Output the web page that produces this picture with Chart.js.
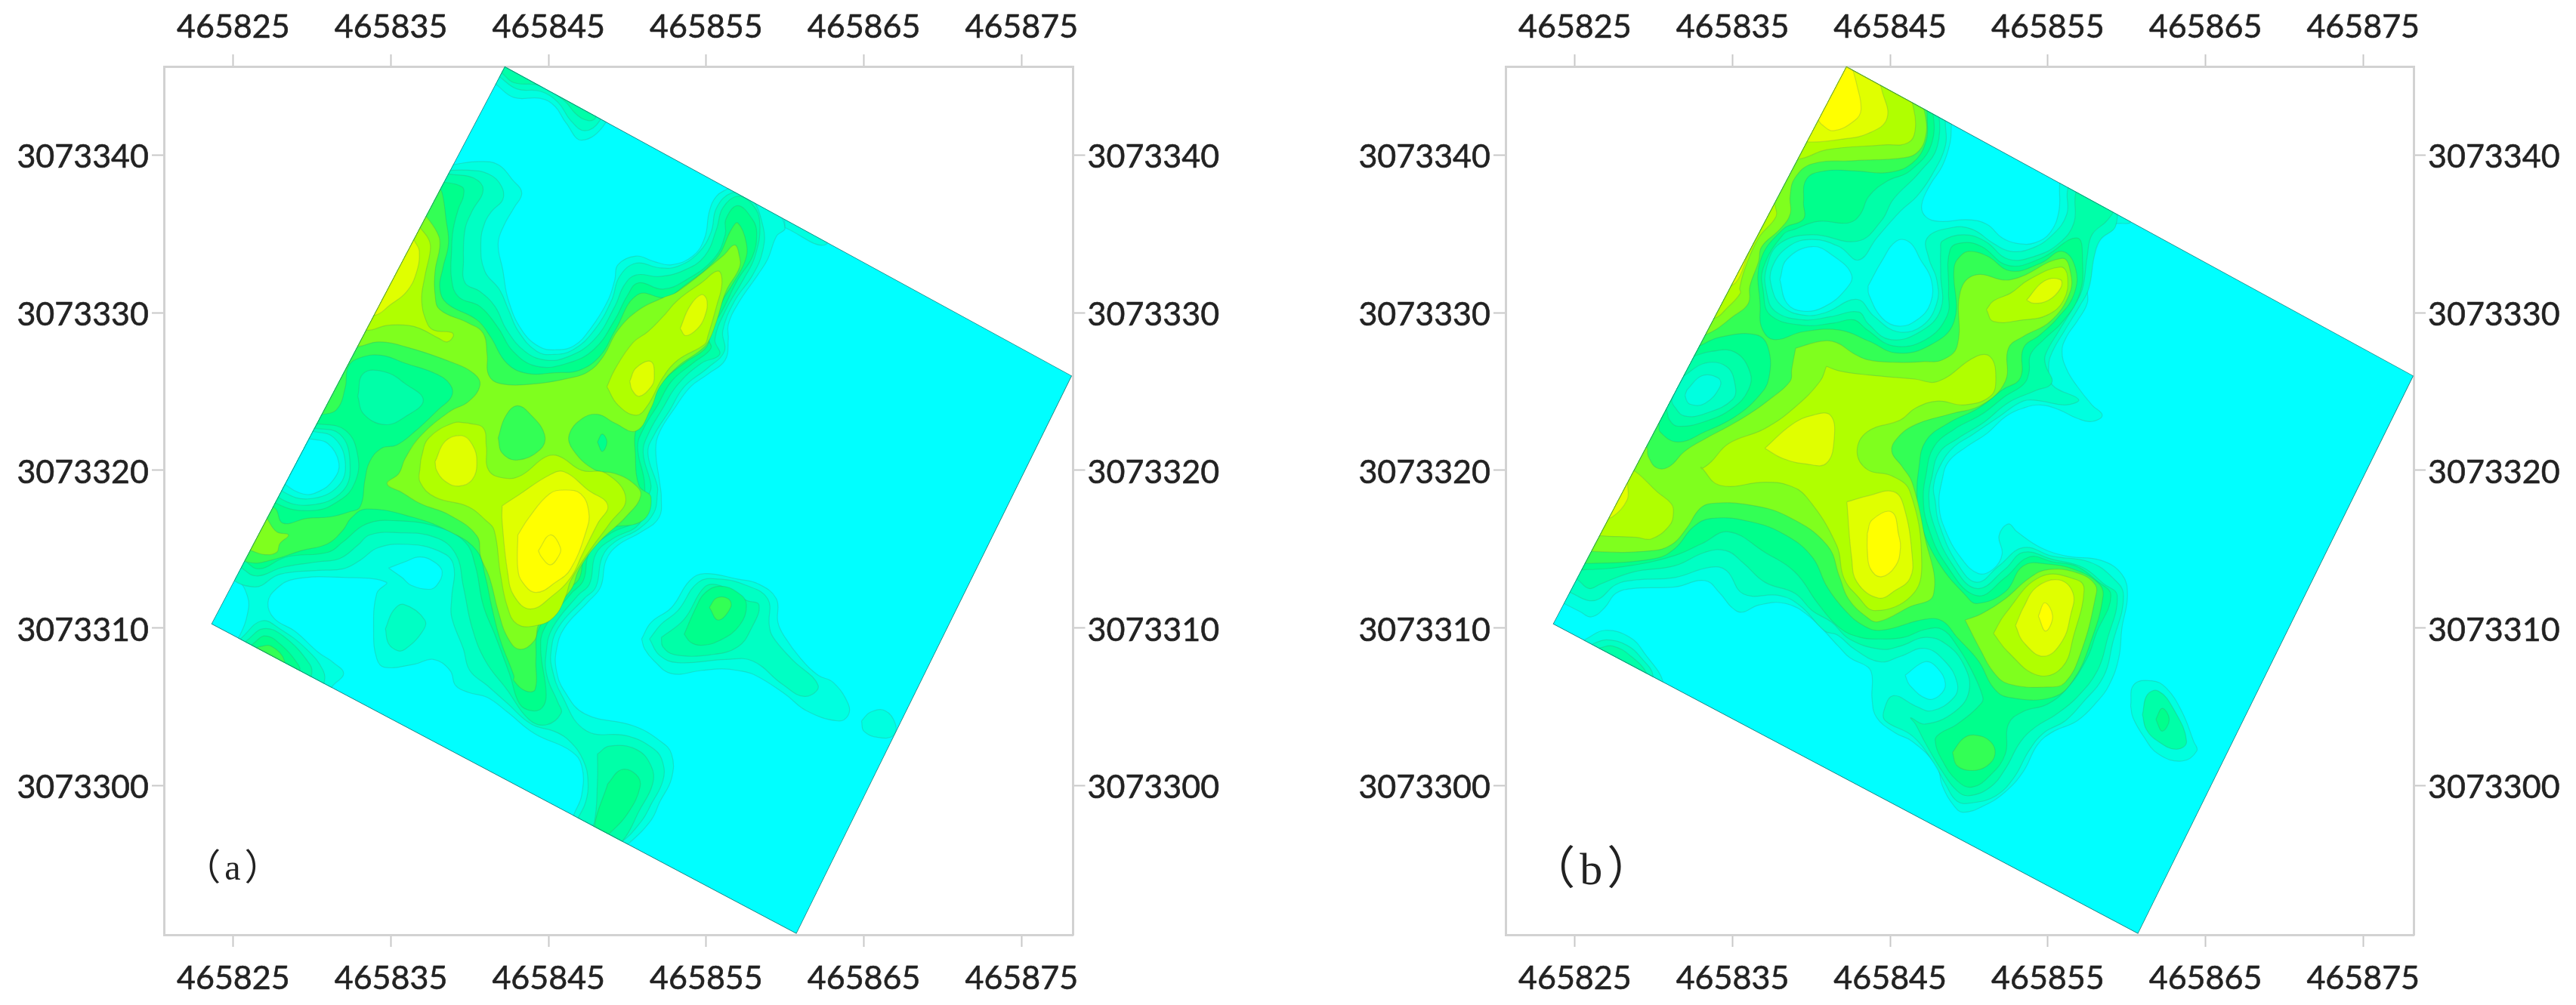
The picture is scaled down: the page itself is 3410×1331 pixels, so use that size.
<!DOCTYPE html>
<html>
<head>
<meta charset="utf-8">
<style>
  body { margin: 0; background: #fff; }
  canvas { position: absolute; top: 0; }
</style>
<script src="https://cdn.jsdelivr.net/npm/chart.js@4/dist/chart.umd.js"></script>
</head>
<body>
<canvas id="panelA" width="1720" height="1331" style="left:0"></canvas>
<canvas id="panelB" width="1634" height="1331" style="left:1776px"></canvas>
<script>
// axes
const eastingBase = 465800;
const northingBase = 3073290;
const eastingTicks = [465825, 465835, 465845, 465855, 465865, 465875];
const northingTicks = [3073300, 3073310, 3073320, 3073330, 3073340];

// contour levels, low to high
const cyan = '#00FFFF';
const level1 = '#00FFE0';
const level2 = '#00FFC4';
const level3 = '#00FFA8';
const level4 = '#00FF8C';
const level5 = '#33FF55';
const level6 = '#7FFF1E';
const level7 = '#B0FF00';
const level8 = '#E0FF00';
const level9 = '#FFFF00';

// surveyed block, [east, north] pairs relative to the bases, same for both panels
const fieldOutline = [42.22,55.63, 78.2,36, 60.72,0.59, 23.6,20.25];

// ---- panel (a) contours: flat [east, north, ...] lists
const aL1Main = [38.9,49.4, 40.6,49.6, 41.8,49.4, 42.7,48.45, 43.3,47.6, 42.8,46.65, 42.2,45.6, 41.8,44.4, 42.1,42.7, 42.45,40.8, 43.3,38.9, 44.4,37.85, 45.4,37.65, 46.6,37.9, 47.7,39.05, 48.75,40.75, 49.2,42.1, 49.4,43.05, 50.55,43.6, 51.7,43.25, 52.8,43.05, 54.15,43.6, 54.9,44.75, 55.2,46.45, 55.65,47.4, 56.4,47.9, 57,48.3, 59.1,47, 60,45.4, 59.45,44.85, 58.9,43.4, 58.3,42.45, 57,40.55, 56.4,39.25, 56.4,38.3, 56.2,37, 55.1,36.1, 54,35.3, 53,33.95, 52.05,32.45, 51.8,31.3, 52.05,29.2, 52.15,28.3, 52,27, 50.9,26.1, 49.4,25.25, 48.65,24.3, 48.3,22.6, 47.5,21.65, 46,20, 45.5,18.6, 45.5,17.3, 46,16, 47.3,14.55, 50.35,13.8, 52.05,12.85, 52.8,12, 52.8,10.45, 52.05,8.95, 51.5,7.8, 50,6.25, 49,5.6, 46.4,7.5, 46.6,8.15, 47.1,9.4, 47.1,11.25, 46.4,12.2, 44.1,13.3, 42.4,14.65, 41.1,15.6, 39.95,15.9, 39.1,16.35, 38.75,17.3, 37.7,18, 36.5,17.7, 34.6,17.5, 34.1,18.05, 33.9,19.8, 34.1,22.2, 34.7,22.9, 32.1,23.2, 28.9,23.1, 27.75,22.5, 27.2,21.6, 27.6,20.6, 28.9,19.8, 30.4,18.45, 31.35,17.8, 32,17.1, 31.25,16.25, 31.2,15.8, 24.9,18.8, 25.4,19.5, 25.9,20.9, 25.9,22, 25.2,23.1, 24.35,23, 32.5,39, 38,49.9];
const aL1Island = [50.9,19.3, 51.5,20.35, 52.8,21.3, 53.95,23, 54.9,23.45, 57,23.1, 58.3,22.8, 59.45,21.85, 59.55,20.35, 60,19.4, 61,18.05, 62.1,17, 63.05,16.55, 64,15.2, 64,14.45, 63.35,14.1, 61.35,14.75, 60,15.8, 58.1,17, 57,17.3, 56,17.4, 54.7,17.3, 52.8,17.1, 51.7,17.9, 51.1,18.65];
const aL1Dot = [64.85,14.1, 65.4,14.65, 66.35,14.75, 67,13.9, 66.85,13.15, 65.9,13.05, 65,13.45];
const aL1Top = [41.65,54.5, 42.8,53.66, 44.5,53.6, 45.4,53.1, 46.1,52.05, 47.1,50.95, 48.65,52.1, 48.85,53.65, 45.6,56.1, 41.97,56.3, 40.9,54.5];
const aL1Strip = [60,45.4, 62.5,44.3, 62.5,46, 60,47];
const aL2Main = [38,49, 39.9,49.05, 41.2,48.8, 42,48.05, 42.1,47.2, 41.4,46.45, 40.95,45.7, 40.7,44.4, 40.95,42.65, 41.9,41.45, 42.45,40.2, 43.1,38.8, 44.25,37.55, 45.25,37.35, 46.55,37.65, 47.9,38.9, 49,40.8, 49.5,42.3, 50.55,43.15, 52.05,42.85, 53.2,42.95, 54.5,43.8, 55.3,45.1, 55.65,46.65, 56.6,47.6, 57.75,47.4, 58.6,45.5, 58.6,44, 57.95,42.4, 56.8,40.75, 56.05,38.85, 56.15,37.55, 55.1,36.5, 53.6,35.3, 52.65,33.75, 51.7,32.25, 51.3,31.1, 51.9,29, 51.9,28.5, 51.7,27.35, 50.75,26.3, 49.2,25.45, 48.4,24.5, 48,22.6, 47.25,21.85, 45.6,20, 45.15,18.45, 45.25,17.3, 45.8,15.8, 47.35,13.5, 50,13.15, 51.7,12.3, 52.25,11.45, 52.25,10.3, 51.5,8.8, 50.9,7.75, 49.6,6.4, 48.45,5.95, 46.55,7.25, 46.85,7.9, 47.35,8.95, 47.5,10.3, 47.2,11.6, 46.4,12.75, 45.45,13.4, 43.9,13.9, 42.4,15.2, 41.1,16.35, 40,17.3, 39.6,18.65, 38.85,20.7, 38.85,21.85, 38.95,24.05, 38,24.9, 36.1,25.3, 34.2,25.1, 33.05,24.3, 31.95,23.75, 30.4,23.65, 27.95,23.4, 26.35,22.6, 24.9,23.55, 32.5,39];
const aL2Island = [51.4,19.3, 52.15,20.25, 53.2,21.1, 54.5,22.9, 55.85,23.1, 57.55,22.7, 58.9,21.85, 59,20.15, 59.25,19.4, 60.4,18.05, 62.1,16.35, 61.25,15.65, 59.8,16.45, 57.95,17.9, 56.25,18, 53.2,17.8, 52.05,18.25];
const aL2SouthWest = [25.5,19.35, 26.8,20.45, 27.95,19.95, 29.65,18.65, 30.7,17.3, 30.75,16.45, 30.4,15.8, 24.9,18.8];
const aL2Top = [41.85,55, 43,54.2, 44.5,54.05, 45.6,53.35, 46.4,52.2, 47.3,51.55, 48.25,52.2, 48.6,53.65, 45.6,55.9, 42.2,56.1, 41.05,55];
const aL2Patch = [34.65,19.95, 35.15,21.1, 35.8,21.5, 37.15,20.5, 36.95,19.7, 35.9,18.65, 35.45,18.55, 34.85,19];
const aL3Main = [37.8,49, 38.75,48.8, 40.25,48.55, 40.85,47.8, 40.15,46.45, 39.7,45.3, 39.6,43.25, 39.7,41.9, 40.65,41.35, 41.6,40.4, 42.35,38.9, 43.5,37.55, 44.8,37, 46.2,37.2, 47.9,38.3, 49.2,40.4, 49.8,41.75, 50.55,42.4, 52.05,42.3, 53.6,42.7, 54.9,43.6, 55.65,45.3, 56.05,46.65, 57,47.4, 57.95,46.85, 58.4,45.7, 58.1,43.6, 57.35,42.1, 56.25,40.2, 55.55,38.3, 55.85,37.35, 54.7,36.8, 53.2,35.45, 52.25,33.95, 51.3,32.25, 51,31.1, 51.5,29, 51.3,28.3, 50.75,26.6, 49.05,25.65, 48,24.7, 47.6,22.8, 46.85,22.05, 45.25,20, 44.85,18.45, 44.9,16.95, 45.6,15.25, 45.8,14.6, 44.85,13.85, 43.75,14.2, 42.35,16.1, 41,17.9, 40.15,20, 39.6,22.6, 39.1,24.7, 37.8,25.75, 35.35,26.05, 33.65,25.9, 32.9,25.25, 31.75,24.4, 30.4,24.2, 28.15,23.85, 26.45,23.3, 25.3,23.95, 24.75,24.1, 32.5,39.5];
const aL3Island = [52.15,19.4, 53.6,20.55, 54.9,22.6, 55.85,22.7, 57.55,21.75, 58.35,21.45, 57.85,19.95, 57,18.8, 55.3,18.3, 53,18.3, 52.25,18.8];
const aL3SouthWest = [25.85,19.2, 26.9,19.95, 28.15,19.5, 29.85,17.7, 29.95,16.95, 29.5,16.4, 25.5,18.65];
const aL3Top = [42.05,55.2, 42.8,54.6, 44.5,54.4, 46,53.45, 46.75,52.6, 47.5,52.2, 48,52.4, 48.1,53.3, 45.35,55.35, 42.45,56.1, 41.7,55.35];
const aL3Lobe = [48.1,12, 48.85,12.5, 50.55,12.3, 51.5,11.25, 51.6,10.1, 50.75,8.4, 49.7,6.5, 48.85,6.15, 47.5,7.1, 47.9,7.65, 48.1,10.3];
const aL4Main = [38,48.35, 39.5,48, 39.6,47.4, 39.3,46.65, 38.95,45.3, 38.85,44, 38.85,42.1, 39.3,41, 40.65,40.4, 41.8,39.05, 42.75,37.55, 44.25,36.6, 46.2,36.8, 47.9,37.7, 49.2,39.55, 50,41.1, 50.7,41.9, 52.25,41.5, 53.75,42.1, 55.5,43.45, 56.2,44.95, 56.25,45.95, 57,46.8, 57.95,45.9, 58.2,45.1, 57.95,43.6, 57,42.1, 56.05,40.2, 55.1,38.5, 55.3,37.75, 54.15,36.8, 52.8,35.65, 51.9,34.1, 51,32.6, 50.65,31.45, 51.1,29, 50.75,27, 48.85,25.95, 47.6,24.8, 47.2,23, 46.4,22.15, 44.75,20, 44.5,18.65, 44.85,15.8, 44.6,14.95, 43.9,14.75, 43.15,15.2, 42.55,17, 41.6,19.55, 40.85,21.45, 40.35,23.95, 39.7,25.45, 38,26.4, 35.35,26.8, 33.45,26.6, 31.95,25.45, 31,24.8, 28.35,24.5, 26.65,23.75, 25.7,24.3, 25.1,24.9, 32.5,40];
const aL4Island = [53.6,19.6, 54.35,21.3, 54.9,22.2, 55.85,22.65, 57,22.25, 57.55,21.5, 57.1,20.15, 55.85,19.2, 54.7,18.9, 54,19.1];
const aL4SouthWest = [26.25,19, 27,19.5, 27.95,19, 29.1,17.7, 29.2,17.2, 28.7,16.95, 25.85,18.45];
const aL4Lobe = [48.75,10.1, 49.6,11, 50.55,10.7, 50.8,9.9, 50,8.2, 48.85,6.95, 48.3,6.6, 47.9,7.35];
const aL5Main = [38,48, 38.25,47.6, 38.5,45.9, 38.65,44.4, 38.3,42.85, 38.1,41.55, 38.55,40.6, 40.45,39.55, 41.3,38.5, 42.35,36.8, 43.65,36.15, 45.4,36.2, 46.95,36.35, 48.3,37.3, 49.2,38.85, 50.65,41.15, 52.45,40.95, 53.4,41.55, 55.65,43.45, 56.6,45.3, 57,45.7, 57.55,44.4, 57.45,43.25, 56.6,41.7, 56.05,40.8, 55.3,38.85, 55,37.8, 53.6,36.8, 52.25,35.65, 51.3,34.1, 50.55,32.6, 50.5,31.1, 50.75,29, 51.5,28.3, 50.95,26.8, 48.45,26.2, 47.3,24.7, 46.95,23.15, 46.2,22.4, 44.4,20, 44.2,18.05, 44.15,16.1, 43.55,16, 42.8,16.65, 42.8,16.95, 41.95,19.2, 41.4,21.3, 41,23.2, 40.45,24.9, 38.75,26.1, 36.3,27.05, 33.45,27.55, 32.5,27, 31.95,26.2, 31,25.35, 29.3,24.9, 27.4,24.3, 26.05,24.15, 25.3,24.7, 32.5,40.5];
const aL5Island = [55.2,21.3, 55.65,21.9, 56.4,21.85, 56.55,21.3, 55.75,20.5];
const aL5SouthWest = [26.6,18.8, 27.4,18.85, 28.25,17.9, 27.75,17.5, 26.25,18.45];
const aL6Main = [36.85,46.45, 37.25,46.1, 38,44.95, 38.1,44.2, 37.8,42.65, 37.8,41.15, 38.1,40.2, 39.9,39.35, 40.85,38.7, 41.1,37.35, 41.2,36.05, 41.95,35.5, 44.25,35.5, 46.3,35.85, 47.5,36.25, 48.45,37.2, 49.4,38.9, 50.75,40.2, 52.25,40.95, 53.2,41.35, 56.05,43.6, 56.8,44.3, 57.1,43.6, 57.1,42.85, 56.25,41.35, 55.65,39.45, 55.1,38.1, 54.55,37.55, 53.2,36.6, 52.05,35.3, 51.5,33.95, 50.55,32.5, 49.2,33, 48.15,33.55, 47.15,33.3, 46.3,32.25, 46.55,31.3, 47.9,30.05, 49.2,29.8, 50.35,29.2, 50.85,28.4, 49.9,27.05, 48.2,25.45, 46.95,23.75, 46.4,22.4, 44.4,20.25, 44.1,19.2, 43.15,18.65, 42.4,19.4, 41.85,20.9, 41.25,23.2, 40.7,24.5, 40.45,25.85, 38.75,27.15, 36.85,27.9, 35.7,28.6, 34.75,29.15, 35.5,29.8, 35.9,30.75, 36.85,32.15, 38.75,33.75, 39.9,34.35, 40.65,35.4, 40.25,36.15, 38.75,36.9, 35.9,37.85, 34.2,38.15, 32.9,37.85, 32.1,37.95];
const aL6Lobe = [27.1,27, 27.75,26.1, 28.5,25.9, 27.95,25.35, 27.75,24.8, 27,24.65, 26.15,24.9, 25.5,25.1, 26.25,27];
const aL5Spot = [41.8,32.05, 42.25,33.4, 43,34.1, 43.85,33.55, 44.75,32.25, 44.45,31.3, 43,30.65, 42.05,31.1];
const aL4Dot = [48.1,31.8, 48.4,32.3, 48.7,31.8, 48.4,31.2];
const aL4Patch = [30.5,33.5, 31.55,33.85, 32.1,35.25, 32.3,36.6, 33.05,37.15, 34.4,37.3, 35.9,36.8, 37.8,36.15, 38.75,35.45, 38.85,34.7, 38,33.85, 36.5,32.45, 35.35,31.6, 34.4,31.4, 33.65,30.55, 33.35,29.4, 33.05,27.7, 32.3,27.35, 31.15,27.05, 29.65,26.95, 28.15,26.65, 27.65,27.6, 27,27.7, 29.3,33.5];
const aL3Patch = [32.9,34.7, 33.25,36.15, 34.6,36.25, 35.9,35.5, 37.05,34.45, 35.9,33.4, 34.6,32.9, 33.25,33.6];
const aRing3 = [30.15,33, 32.1,32.55, 32.9,30.9, 32.7,29.2, 31.75,28.1, 30.05,27.45, 27.75,27.9, 27,29.05, 28.9,33.2];
const aRing2 = [30.05,32.7, 31.75,32.3, 32.4,30.55, 31.95,28.7, 29.85,27.8, 27.85,28.3, 27.2,29.4, 28.9,32.85];
const aRing1 = [29.95,32.5, 31.35,32.1, 32.1,30.55, 31.65,29, 29.85,28.2, 28.15,28.65, 27.4,29.6, 28.9,32.55];
const aHoleWest = [29.85,32, 31,31.7, 31.7,30.45, 31.35,29.4, 30.4,28.65, 29.45,28.5, 28.25,29.15, 27.4,30, 28.9,32.25];
const aHoleSouth = [34.85,23.8, 35.9,24.2, 36.85,24.5, 37.8,24.15, 38.25,23.55, 37.9,22.7, 37.4,22.45, 36.3,22.7, 35.7,23.2];
const aL7Edge = [36.85,45.4, 37.4,44.65, 37.5,44, 37.15,42.3, 36.95,40.8, 37.25,39.45, 37.7,38.9, 38.85,38.75, 38.95,38.5, 38.55,38.15, 38,38.4, 36.85,39, 36.1,39.2, 34.75,39.2, 33.45,38.9, 32.7,39.45, 36.1,45.7];
const aL8Edge = [36.5,44.55, 36.8,43.9, 36.6,42.5, 36,41.35, 34.95,40.5, 34,39.85, 33.45,40.2, 36.1,44.9];
const aL7Centre = [39.9,33, 40.85,32.7, 41.05,31.55, 41.2,30, 42.25,29.5, 43.3,29.7, 44.8,30.85, 45.65,30.9, 47.1,30, 48.65,29.8, 49.9,28.2, 48.85,26.6, 47.6,24.9, 46.4,23, 46.1,22.05, 45.35,20.7, 44.2,20.15, 43,20.25, 42.4,21.3, 41.95,23.4, 41.55,26.2, 41.05,26.8, 39.9,27.7, 37.8,28.3, 36.85,29.25, 36.85,30.2, 36.95,30.9, 37.4,32.05, 38.95,33];
const aL7North = [48.7,35.3, 49.2,36.4, 50.35,38.1, 51.3,38.8, 52.25,39.75, 53.2,40.8, 54.7,41.9, 55.75,42.65, 56,41.9, 55.65,40.4, 55.1,38.5, 54.9,38, 53.2,37, 52.25,35.9, 51.3,34.15, 50.55,33.5, 49.4,34.15];
const aL8West = [37.8,30.55, 38.45,31.85, 39.5,32.2, 40.15,31.65, 40.45,30.55, 40.15,29.4, 39.3,29, 38.45,29.3, 37.9,30];
const aL8Centre = [42.05,27.75, 43.05,28.4, 45.05,29.7, 46,29.9, 47.5,28.75, 48.75,27.8, 48.1,26.6, 47.15,24.7, 46.4,23.2, 45.25,22.05, 43.85,21.2, 42.8,22.05, 42.4,23.55, 42.05,26.8];
const aL8North = [53.35,39, 53.95,40.4, 54.7,41.15, 55.05,40.75, 54.9,39.75, 54.45,39, 53.7,38.55];
const aL8Middle = [50.15,35.65, 50.55,36.5, 51.5,36.9, 51.7,35.85, 51.5,35.3, 50.75,34.7, 50.3,35.1];
const aL9Centre = [43.05,25.9, 43.75,27, 45.05,28.5, 46,28.75, 47.05,28.5, 47.55,27.35, 47.4,26.2, 46.4,23.75, 45.45,22.9, 44.2,22.25, 43.35,22.9, 43.05,23.75];
const aPeak = [44.35,24.9, 45.1,25.9, 45.75,25.1, 45.6,24.5, 45.1,24, 44.55,24.5];

// ---- panel (b) contours
const bL1Main = [49.25,54.2, 48.9,52.05, 48.8,50.8, 48.3,49.3, 47.55,48.15, 47,46.85, 47.25,46.1, 48.1,45.8, 50,45.9, 51.15,45.6, 52.1,44.75, 53.05,44.4, 54.2,44.45, 55.15,45.1, 55.7,46.45, 55.75,48.15, 55.9,48.9, 59.1,47.4, 60.25,45.8, 59.1,45.6, 58.15,44.95, 57.7,43.65, 57.5,41.55, 57.5,40.6, 56.85,39.45, 56.2,38.5, 55.9,37.55, 56.2,36.4, 56.85,35.35, 57.8,34.15, 58.45,33.5, 57.8,33.1, 56.85,33.3, 55.7,33.85, 54.55,34.15, 53.45,33.95, 52.3,33.4, 51.15,32.35, 49.85,31.5, 48.7,30.55, 48.3,29.4, 48.1,27.75, 48.5,26.2, 49.45,24.5, 50.6,23.45, 51.55,23.75, 52.1,24.7, 51.9,25.85, 52.5,26.6, 53.05,26.1, 54.55,25.1, 56.25,24.55, 58.35,24.3, 59.7,23.4, 60.05,22.05, 59.7,20, 59.5,18.1, 58.9,16.4, 58.15,15.35, 56.85,14.1, 55.3,13.4, 54.35,12.6, 53.45,10.9, 52.3,9.6, 51,8.75, 49.65,8.3, 49.05,8.7, 48.3,10, 47.95,11.25, 46.4,12.8, 45.3,13.35, 44.15,14.3, 43.85,15.45, 43.85,16.95, 43.6,17.5, 42.45,18.1, 41.7,18.85, 39.9,20.7, 38.35,21.55, 36.65,21.45, 35.6,21, 34.95,21.3, 34.2,22.2, 33.25,23, 31.35,22.6, 28.7,22.5, 27.6,22.2, 26.9,21.3, 26.05,20.7, 25.3,21.05, 24.3,21.55, 23.8,21.8, 32.5,39, 42.15,56.1];
const bL1SouthWest = [25.7,19.3, 26.9,19.85, 28.5,19.4, 29.45,18.35, 30.6,16.55, 30.05,16, 25.1,18.65];
const bL1East = [60.25,15.05, 60.45,16.4, 61.6,16.65, 62.5,16.2, 63.5,14.7, 64.25,12.8, 64.45,12.2, 63.5,11.55, 62,12, 61.05,13.15, 60.4,14.3];
const bL2Main = [48.5,54.2, 48.5,52.05, 48.5,50.6, 47.65,48.75, 46.7,47.4, 45.65,46.45, 44.15,44.75, 43,43.35, 41.75,44.2, 40.05,44.65, 38.55,44.2, 37.5,42.85, 37.5,41.55, 38.15,40.4, 39.5,39.85, 40.85,40, 42.9,40.85, 43.95,39.8, 45.45,38.8, 47,39.15, 47.95,40.6, 47.95,42.1, 47.45,43.45, 47.35,44.75, 48.9,45.4, 50.2,45.3, 51.55,44.4, 52.65,43.9, 54,44.1, 55.3,44.95, 56.2,46.25, 56.25,47.8, 56.65,48.55, 59.1,47, 59.3,45.5, 58.35,44.65, 57.95,43.6, 57.6,41.55, 57,40.4, 56.05,38.85, 55.3,37.55, 55.05,36.6, 55.3,35.4, 56.95,34.5, 56.1,34.15, 54.55,34.4, 53.45,34.4, 51.9,33.4, 50.2,32.25, 49.05,31.5, 48.2,30.35, 47.75,29, 47.85,28.1, 48.1,26.6, 49.25,24.1, 50.5,22.9, 51.9,23.95, 53.45,25.1, 55.3,24.55, 57.6,24.2, 59.1,23.2, 59.8,22.05, 59.1,19, 58.55,16.95, 57.2,15.25, 56.1,14.1, 54.75,13.35, 53.8,12.2, 52.85,10.5, 51.7,9.35, 50.2,8.9, 49.25,9, 48.5,10.1, 47.75,11.45, 46.4,13.15, 44.7,14.1, 44.6,14.75, 45.2,15.7, 46.6,15.05, 47.65,14.75, 49.05,15.6, 49.25,16.5, 48.5,17.85, 47.2,18.7, 45.65,18.2, 44.35,17.85, 42.8,18.6, 41.65,19.55, 40.85,19.8, 39.3,21.4, 38,22.05, 35.7,22.15, 34.6,23.65, 33.55,23.85, 31.35,23.2, 28.9,23.05, 27.6,22.75, 26.55,21.85, 25.8,21.75, 24.7,22.25, 24,22.45, 32.7,39, 42,56.1];
const bL2SouthWest = [26.15,19, 27,19.25, 28.3,18.9, 29.25,18.05, 29.95,17, 29.45,16.55, 25.7,18.45];
const bL3Main = [48.05,53.65, 48,50.6, 46.85,48.9, 45.2,47.2, 44.45,45.85, 42.95,44.55, 40.05,44.95, 38,44.4, 37.15,42.85, 37.15,41.35, 37.7,40.1, 39.5,39.55, 41.2,39.75, 43,40.05, 43.6,39.3, 45,38.3, 46.9,38.8, 48.2,40.2, 48.2,42.5, 48.2,44, 48.3,44.55, 49.65,44.95, 51,44.55, 52.5,43.4, 54.2,43.6, 55.7,44.4, 56.65,45.7, 56.75,47.5, 57.05,48, 59.1,46.65, 58.8,45.9, 57.8,44.95, 57.5,43.6, 57.2,41.55, 56.65,40.4, 55.7,38.85, 54.85,37.35, 54.85,36.7, 55.25,35.55, 54.2,35.05, 52.5,34.3, 50.95,33.05, 49.25,32, 48.1,31.1, 47.65,29.6, 47.45,28.3, 47.75,26.6, 48.9,24.1, 50.5,22.5, 52.3,23.75, 53.45,24.8, 55.3,24.35, 57.2,23.85, 58.55,22.8, 59.4,22.05, 58.75,19.2, 58.15,17.3, 56.85,15.6, 55.5,14.5, 54.2,13.7, 53.25,12.75, 52.3,11.05, 51.35,9.9, 50,9.35, 49.25,9.65, 48.3,10.9, 47.2,12.75, 46.6,13.9, 46.3,14.3, 47.2,13.9, 49.05,14.65, 50,16, 49.65,17.7, 48.5,19, 47.2,19.4, 45.65,18.85, 44.4,18.65, 42.4,19.3, 41.3,20.35, 40.05,21.1, 38.95,22.2, 37.05,22.9, 35.7,24.1, 34.6,24.9, 33.25,24.8, 31.35,23.95, 28.7,23.55, 26.65,22.8, 25.9,22.5, 25.1,23.1, 24.55,23.2, 33,39.5, 42,56.1];
const bL3SouthWest = [26.6,18.75, 27.4,18.85, 28.5,18.25, 29.55,17.1, 29.1,16.75, 26.25,18.25];
const bL3East = [61,14.5, 61.3,15.75, 62,16, 62.95,14.9, 63.8,12.8, 63.15,12.3, 62,12.8, 61.25,13.55];
const bL4East = [61.85,14.2, 62.25,14.9, 62.7,14.2, 62.25,13.45];
const bL4Main = [47.65,53.65, 47.65,50.8, 46.25,49, 44.8,48.35, 43.65,47.4, 43.1,46.25, 42.35,45.7, 40.45,45.8, 38.95,45.3, 38.2,44.95, 36.95,42.85, 36.95,41.35, 37.4,39.85, 39.5,39.2, 41.4,39.35, 42.7,39.55, 43.5,38.95, 45.2,37.9, 47.25,38.3, 48.6,39.8, 48.7,41.35, 48.8,44, 49.65,44.45, 50.8,44.2, 52.5,43, 54.55,43.45, 56.85,44.75, 57.2,43.25, 57,41.15, 55.95,39.45, 54.75,38.3, 53.9,37.35, 53.8,36.2, 53.45,35.45, 52.3,34.7, 50.8,33.55, 49.05,32.6, 47.75,31.45, 47.25,29.6, 47.1,28.3, 47.35,26.6, 48.5,24.1, 50.5,22.05, 52.3,23.2, 53.8,24.5, 55.3,24.2, 56.85,23.9, 58.1,23, 59,22.05, 58.05,19.6, 57.5,18.1, 56.25,16.2, 54.95,15.15, 53.45,14.7, 52.5,13.9, 52.3,12, 51.35,10.65, 50.2,9.9, 49.25,10.3, 48.3,11.6, 47.85,12.85, 48.15,13.3, 49.25,13.9, 50.8,15.25, 50.85,15.7, 50.2,17.25, 49.25,18.85, 48.3,19.9, 47.2,19.9, 45.85,19.4, 44.4,19.3, 43.1,19.4, 41.8,20, 40.45,21.5, 38.95,23.55, 37.05,24.8, 34.75,26.1, 33.05,25.35, 31.35,24.6, 28.5,23.95, 25.7,23.7, 25.1,23.85, 33.5,39.5, 42,56.1];
const bL5Main = [47.25,53.65, 47.35,52.3, 47.25,50.8, 46.4,49.5, 44.9,48.9, 42.75,49, 40.85,49, 39.7,48.5, 39.5,47, 39.5,45.95, 38.2,45.3, 36.75,43.25, 36.75,40.4, 36.85,39.05, 37.6,38.3, 39.5,38.8, 41.8,38.9, 43.65,38.2, 45.4,37.45, 47.45,37.9, 49.05,39.45, 49.05,42.85, 49.45,43.6, 50,43.9, 51.15,43.6, 52.65,42.65, 54.55,43.15, 55.9,43.9, 56.75,42.85, 56.65,41.15, 55.6,39.65, 54.5,38.6, 53.45,37.75, 53.25,35.85, 52.1,35.1, 50.6,33.95, 48.7,33, 47.25,31.85, 46.8,30, 46.7,28.3, 46.95,26.6, 48.1,24.1, 49.8,22.05, 50.5,21.55, 52.3,22.3, 53.45,23.95, 55,24.05, 56.85,23.65, 58.25,22.8, 58.5,22, 57.75,19.2, 56.65,16.75, 55.3,15.6, 52.5,15.6, 51.55,16.2, 50.6,17.9, 49.25,19.4, 48.3,20.45, 47.2,20.55, 44.4,19.85, 43.3,20.15, 42.15,21.1, 41,22.6, 40.05,24.5, 38.35,25.9, 36.1,26.75, 33.65,26.95, 32.5,26.4, 31.35,25.05, 30.05,24.4, 25.7,24.1, 25.3,24.3, 33.5,40, 42,56.1];
const bL5Spot = [48.95,12.1, 49.65,13, 50.4,13.2, 51.35,12.8, 51.65,12, 51.15,11.25, 50.2,10.95, 49.25,11.25];
const bL4Patch = [32.9,37.9, 34.2,38.45, 36.5,38.6, 37.25,37.8, 37.3,35.85, 36.65,34.7, 35.15,33.4, 33.25,32.45, 31.55,31.8, 30.4,32.45, 30.3,33.1, 29.45,33.8, 32.1,38.3];
const bL3Patch = [32.4,37.2, 33.65,37.55, 35.15,37.5, 36.1,36.25, 36,35.1, 35,33.95, 33.25,33.1, 31.55,32.8, 31,33.2, 30.7,34.05, 29.85,34.35, 31.75,37.2];
const bL2Patch = [31.85,35.95, 33.25,36.8, 34.6,36.6, 35.15,35.5, 35,34.5, 33.25,33.6, 31.95,33.45, 31.35,34, 31.15,34.5];
const bL1Patch = [32.1,35.1, 33.05,36, 34.1,35.85, 34.2,35.3, 33.25,34.25, 32.3,34.2, 32,34.7];
const bHoleWest = [38,42.1, 38.45,43.4, 40.05,44.2, 41.4,43.6, 42.55,42.4, 42.15,41.45, 40.85,40.4, 39.5,40.1, 38.45,40.6];
const bHoleMiddle = [43.6,41.7, 44.45,43.25, 45.4,44.55, 46.25,44.45, 46.9,43.4, 47.6,42.1, 47.55,40.6, 46.7,39.55, 45.55,39.15, 44.5,39.65, 43.65,41.15];
const bHoleSouth = [45.95,17, 47.2,17.85, 47.95,17.5, 48.5,16.45, 48.1,15.7, 47.35,15.5, 46.25,16.35];
const bL6North = [46.9,53.65, 47.25,52.4, 47.25,51.2, 46.8,50.25, 45.95,49.85, 42.7,49.65, 40.05,49.45, 38.95,48.55, 38.65,47.4, 38.65,46.25, 38,45.3, 36.85,44.2, 36.65,43.25, 36.1,41.7, 36,40.6, 35.15,39.85, 33.25,38.6, 32.5,38.9, 41.8,56.1];
const bL6Centre = [39,37.75, 40.65,38.2, 41.6,38.1, 42.7,37.4, 43.65,37, 45.55,36.85, 47.1,36.9, 48.3,37, 49.25,37.9, 49.45,41.35, 50.4,42.4, 52.65,42.1, 55.9,43.45, 56.45,42.5, 56.35,41.15, 55.15,39.45, 53.45,38.5, 52.5,37.75, 52.3,35.65, 50.8,34.15, 48.9,33.6, 46.6,32.9, 45.45,32.05, 45.1,31.2, 45.75,30.25, 46.4,29.2, 47.15,26, 47.75,22.15, 46.15,21.3, 44.25,20.4, 43.5,20.7, 42.35,21.85, 41.8,23.2, 41,25.25, 38.55,27.05, 36.1,27.8, 33.65,27.9, 32.9,27.55, 32.1,26.35, 31.15,25.3, 29.85,24.9, 26.25,24.85, 25.7,25.1, 29.1,31.85, 29.55,31.5, 29.65,30.9, 30.2,30.15, 31,30.25, 31.95,31.2, 33.25,32, 34.75,32.8, 36.1,33.6, 37.35,34.5, 38.65,35.65, 38.75,36.4];
const bL6East = [49.75,20.5, 50.8,20.9, 52.3,21.85, 53.8,23.15, 55,23.7, 56.85,23.5, 58,22.75, 58,21.85, 57.15,18.6, 56.1,16.55, 54.95,16.25, 52.5,16.45, 51.55,17.2, 50.7,18.65];
const bL7North = [46.15,54.05, 46.4,53.35, 46.6,51.75, 46.15,50.8, 44.6,50.65, 41,50.35, 39.2,49.75, 38.75,50.05, 41.8,55.9];
const bL7Edge = [37.7,46.85, 37.75,46.1, 36.65,44.75, 35.8,42.85, 35.45,41.55, 35.5,41.25, 34.75,40.4, 33.8,39.65, 33.25,40.2, 37.05,47];
const bL7Centre = [40.95,36.6, 41.8,36.3, 43.65,36.05, 46.5,35.8, 48.05,35.65, 50.4,37.2, 51.35,37.2, 51.7,35.85, 51.35,34.7, 49.65,34.15, 48.05,34.4, 46.6,33.95, 45.65,33.2, 43.55,32.45, 42.9,31.2, 43.55,30.05, 45.1,29.65, 46.25,28.65, 47,24.1, 46.35,22.05, 44.05,21.1, 42.9,22.05, 42.05,23.2, 41.6,25.25, 39.7,28.3, 38.55,29.05, 37.05,29.25, 34.2,29.05, 33,30.2, 33.05,30.1, 33.65,30.55, 34.75,31.7, 37.05,32.65, 38.95,34, 40.55,35.65];
const bL7SouthWest = [28.35,30.2, 29,29.8, 30.2,28.65, 31.1,27.9, 31.25,27.35, 31,26.5, 29.85,25.65, 28.9,25.75, 26.65,25.85, 26.05,25.95];
const bL7East = [51.55,19.65, 52.3,20.9, 54.55,23.25, 56.85,23.05, 57.3,22.4, 56.65,19.55, 55.9,17.5, 54.35,17, 52.5,18.45];
const bL7Ridge = [51.1,40.2, 51.55,40.75, 52.65,41.25, 53.8,42.1, 55.8,42.9, 56.25,42.3, 56,40.8, 54.95,39.85, 53.45,39.55, 51.55,39.45];
const bL8North = [44.25,54.8, 44.45,54.2, 44.8,52.35, 43.65,51.4, 41.8,51, 39.7,50.85, 39.3,51.15, 41.8,55.9];
const bL8Edge = [36.3,44.95, 35.6,42.65, 35.05,41.8, 34.7,42.1, 35.8,45.1];
const bL8SouthWest = [28.35,29.15, 28.3,28.1, 27.3,27, 27,27.3, 28,29.25];
const bL8West = [37.05,31.4, 38.75,32.9, 40.1,33.5, 41.2,33.5, 41.45,32.05, 40.95,30.45, 39.7,30.4, 38.2,30.75];
const bL8Centre = [42.25,28, 43.65,28.4, 45.2,28.65, 45.85,27.75, 46.4,24.5, 46.25,23.15, 45.35,22.4, 44.25,21.9, 42.9,22.9, 42.55,24.5];
const bL8East = [52.95,20.15, 53.45,21.3, 54.3,22.6, 55.7,23.05, 56.6,22.2, 56.45,20.85, 55.9,19.15, 54.75,18.2, 53.45,19.1];
const bL8Ridge = [53.65,40.8, 54.75,42, 55.8,42.1, 55.8,41.55, 55.05,40.8, 54.1,40.6];
const bL9North = [42.65,55.35, 42.85,54.6, 43.15,52.9, 42.75,52.2, 41.4,51.55, 40.65,51.95, 40.45,52.2, 40.1,52.5, 42,55.9];
const bL9Centre = [43.55,26, 43.85,26.85, 45.1,27.35, 45.55,25.85, 45.65,25.1, 45.35,23.95, 44.45,23.25, 43.75,23.75, 43.55,24.9];
const bL9East = [54.4,20.75, 54.8,21.6, 55.3,20.75, 54.85,19.8];

// paint order, lowest first
const panelALayers = [
  [level1, aL1Main], [level1, aL1Island], [level1, aL1Dot], [level1, aL1Top], [level1, aL1Strip],
  [level2, aL2Main], [level2, aL2Island], [level2, aL2SouthWest], [level2, aL2Top], [level2, aL2Patch],
  [level3, aL3Main], [level3, aL3Island], [level3, aL3SouthWest], [level3, aL3Top], [level3, aL3Lobe],
  [level4, aL4Main], [level4, aL4Island], [level4, aL4SouthWest], [level4, aL4Lobe],
  [level5, aL5Main], [level5, aL5Island], [level5, aL5SouthWest],
  [level6, aL6Main], [level6, aL6Lobe], [level5, aL5Spot], [level4, aL4Dot],
  [level4, aL4Patch], [level3, aL3Patch], [level3, aRing3], [level2, aRing2], [level1, aRing1],
  [cyan, aHoleWest], [cyan, aHoleSouth],
  [level7, aL7Edge], [level7, aL7Centre], [level7, aL7North],
  [level8, aL8Edge], [level8, aL8West], [level8, aL8Centre], [level8, aL8North], [level8, aL8Middle],
  [level9, aL9Centre], [level9, aPeak]
];
const panelBLayers = [
  [level1, bL1Main], [level1, bL1SouthWest], [level1, bL1East],
  [level2, bL2Main], [level2, bL2SouthWest],
  [level3, bL3Main], [level3, bL3SouthWest], [level3, bL3East],
  [level4, bL4Main], [level4, bL4East],
  [level5, bL5Main], [level5, bL5Spot],
  [level4, bL4Patch], [level3, bL3Patch], [level2, bL2Patch], [level1, bL1Patch],
  [cyan, bHoleWest], [cyan, bHoleMiddle], [cyan, bHoleSouth],
  [level6, bL6North], [level6, bL6Centre], [level6, bL6East],
  [level7, bL7North], [level7, bL7Edge], [level7, bL7Centre], [level7, bL7SouthWest], [level7, bL7East], [level7, bL7Ridge],
  [level8, bL8North], [level8, bL8Edge], [level8, bL8SouthWest], [level8, bL8West], [level8, bL8Centre], [level8, bL8East], [level8, bL8Ridge],
  [level9, bL9North], [level9, bL9Centre], [level9, bL9East]
];

function toPoints(list, closed) {
  const pts = [];
  for (let i = 0; i < list.length; i += 2) {
    pts.push({ x: eastingBase + list[i], y: northingBase + list[i + 1] });
  }
  if (closed) pts.push(pts[0]);
  return pts;
}

function buildDatasets(layers) {
  const sets = [{
    data: toPoints(fieldOutline, true), showLine: true, fill: 'shape', tension: 0,
    backgroundColor: cyan, borderWidth: 0, pointRadius: 0, order: 0
  }];
  layers.forEach(([color, list], i) => {
    sets.push({
      data: toPoints(list, true), showLine: true, fill: 'shape', tension: 0.42,
      backgroundColor: color, borderColor: 'rgba(70,130,100,0.24)', borderWidth: 1.2,
      pointRadius: 0, order: -(i + 1)
    });
  });
  sets.push({
    data: toPoints(fieldOutline, true), showLine: true, fill: false, tension: 0,
    borderColor: 'rgba(40,90,90,0.8)', borderWidth: 1.5, pointRadius: 0, order: -(layers.length + 2)
  });
  return sets;
}

// everything stays inside the surveyed block
const clipToField = {
  id: 'clipToField',
  beforeDatasetsDraw(chart) {
    const { ctx, scales: { x, y } } = chart;
    const pts = toPoints(fieldOutline, false);
    ctx.save();
    ctx.beginPath();
    pts.forEach((p, i) => {
      const px = x.getPixelForValue(p.x), py = y.getPixelForValue(p.y);
      if (i === 0) ctx.moveTo(px, py); else ctx.lineTo(px, py);
    });
    ctx.closePath();
    ctx.clip();
  },
  afterDatasetsDraw(chart) { chart.ctx.restore(); }
};

const panelTag = {
  id: 'panelTag',
  afterDraw(chart, args, opts) {
    const { ctx, scales: { x, y } } = chart;
    ctx.save();
    ctx.font = opts.size + 'px "Liberation Serif", "Noto Sans CJK SC"';
    ctx.letterSpacing = opts.spacing + 'px';
    ctx.fillStyle = '#222';
    ctx.textBaseline = 'alphabetic';
    ctx.fillText(opts.text, x.getPixelForValue(opts.x), y.getPixelForValue(opts.y));
    ctx.restore();
  }
};

function axis(position, ticksList, min, max, thickness, padding) {
  const horizontal = position === 'top' || position === 'bottom';
  return {
    type: 'linear', position, min, max,
    axis: horizontal ? 'x' : 'y',
    afterBuildTicks(scale) { scale.ticks = ticksList.map(v => ({ value: v })); },
    afterFit(scale) { if (horizontal) scale.height = thickness; else scale.width = thickness; },
    border: { color: '#d2d2d2', width: 3 },
    grid: { drawOnChartArea: false, tickLength: 16, tickColor: '#c8c8c8', tickWidth: 2 },
    ticks: {
      autoSkip: false, maxRotation: 0, padding, color: '#222',
      labelOffset: horizontal ? 0 : 3,
      textStrokeColor: '#222', textStrokeWidth: 0.6,
      font: { family: 'Lato', size: 43 },
      callback: v => String(v)
    }
  };
}

function drawPanel(id, layers, xMax, rightWidth, tag) {
  new Chart(document.getElementById(id), {
    type: 'scatter',
    data: { datasets: buildDatasets(layers) },
    options: {
      responsive: false,
      animation: false,
      layout: { padding: 0 },
      plugins: { legend: { display: false }, tooltip: { enabled: false }, panelTag: tag },
      scales: {
        x: axis('bottom', eastingTicks, eastingBase + 20.6, xMax, 93, 16),
        x2: axis('top', eastingTicks, eastingBase + 20.6, xMax, 88, 10),
        y: axis('left', northingTicks, northingBase + 0.53, northingBase + 55.63, 217, 4),
        y2: axis('right', northingTicks, northingBase + 0.53, northingBase + 55.63, rightWidth, 3)
      }
    },
    plugins: [clipToField, panelTag]
  });
}

drawPanel('panelA', panelALayers, eastingBase + 78.27, 299.5,
  { text: '（a）', size: 48, spacing: 5, x: eastingBase + 21.9, y: northingBase + 4.03 });
drawPanel('panelB', panelBLayers, eastingBase + 78.2, 215,
  { text: '（b）', size: 60, spacing: 6, x: eastingBase + 22.15, y: northingBase + 3.74 });
</script>
</body>
</html>
